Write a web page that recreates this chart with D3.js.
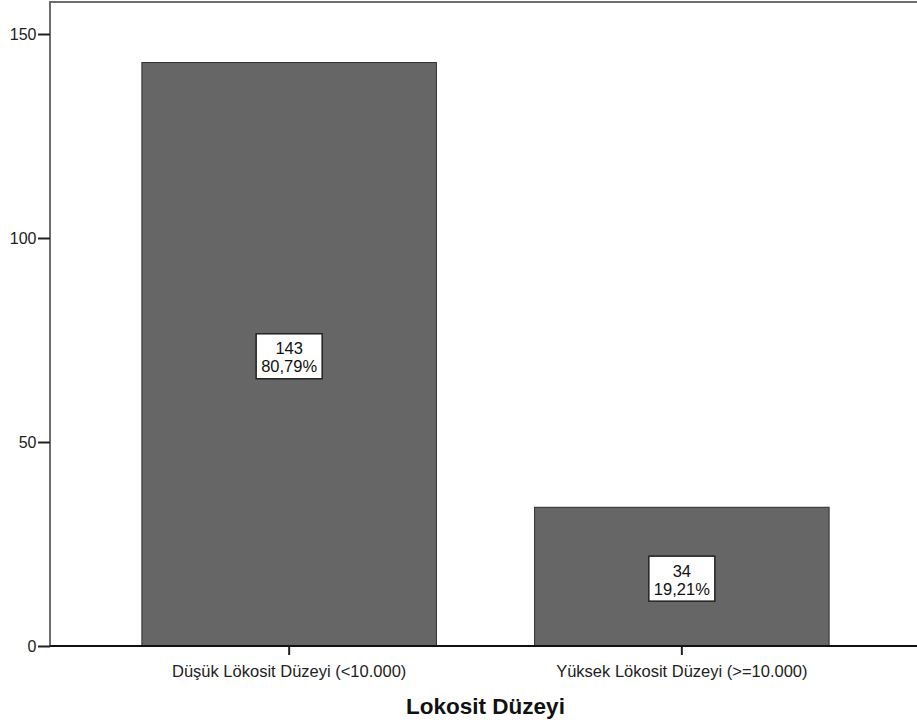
<!DOCTYPE html>
<html>
<head>
<meta charset="utf-8">
<script src="https://cdn.jsdelivr.net/npm/d3@7/dist/d3.min.js"></script>
<style>
  html, body { margin: 0; padding: 0; background: #fff; }
  svg { display: block; }
  text { font-family: Arial, "Liberation Sans", sans-serif; }
</style>
</head>
<body>
<svg id="chart" width="917" height="728"></svg>
<script>
// Frequency of leukocyte level groups
const categories = ["Düşük Lökosit Düzeyi (<10.000)", "Yüksek Lökosit Düzeyi (>=10.000)"];
const counts = [143, 34];
const percents = ["80,79%", "19,21%"];
const yTicks = [0, 50, 100, 150];
const xTitle = "Lokosit Düzeyi";

const W = 917, H = 728;
const plot = { left: 50, top: 2, right: 921, bottom: 646 };

const svg = d3.select("#chart");

const x = d3.scaleBand()
  .domain(categories)
  .range([plot.left, plot.right])
  .paddingInner(0.25)
  .paddingOuter(0.234);

const y = d3.scaleLinear()
  .domain([0, 150])
  .range([plot.bottom, 34]);

// plot frame (left and top edges)
svg.append("line")
  .attr("x1", plot.left).attr("x2", plot.left)
  .attr("y1", plot.top).attr("y2", plot.bottom)
  .attr("stroke", "#6e6e6e").attr("stroke-width", 2);
svg.append("line")
  .attr("x1", plot.left - 1).attr("x2", W)
  .attr("y1", plot.top).attr("y2", plot.top)
  .attr("stroke", "#6e6e6e").attr("stroke-width", 2);

// bars
svg.append("g").selectAll("rect")
  .data(categories)
  .join("rect")
  .attr("x", d => x(d))
  .attr("width", x.bandwidth())
  .attr("y", (d, i) => y(counts[i]))
  .attr("height", (d, i) => y(0) - y(counts[i]))
  .attr("fill", "#666666")
  .attr("stroke", "#2e2e2e")
  .attr("stroke-width", 1);

// y axis
const yAxis = svg.append("g")
  .attr("transform", `translate(${plot.left},0)`)
  .call(d3.axisLeft(y).tickValues(yTicks).tickSize(12).tickPadding(1.5).tickFormat(d3.format("d")));
yAxis.select(".domain").remove();
yAxis.selectAll(".tick line").attr("stroke", "#222").attr("stroke-width", 2);
yAxis.selectAll(".tick text")
  .attr("fill", "#222")
  .style("font-size", "16px")
  .attr("dy", "0.36em");

// x axis
const xAxis = svg.append("g")
  .attr("transform", `translate(0,${plot.bottom})`)
  .call(d3.axisBottom(x).tickSize(9).tickPadding(10));
xAxis.select(".domain").remove();
svg.append("line")
  .attr("x1", plot.left).attr("x2", W)
  .attr("y1", plot.bottom).attr("y2", plot.bottom)
  .attr("stroke", "#111").attr("stroke-width", 2);
xAxis.selectAll(".tick line").attr("stroke", "#222").attr("stroke-width", 2);
xAxis.selectAll(".tick text")
  .attr("fill", "#222")
  .style("font-size", "16.5px");

// axis title
svg.append("text")
  .attr("x", (plot.left + 917) / 2 + 2)
  .attr("y", 714)
  .attr("text-anchor", "middle")
  .style("font-size", "22.5px")
  .style("font-weight", "bold")
  .attr("fill", "#111")
  .text(xTitle);

// value labels inside bars
const boxW = 66, boxH = 45;
const labels = svg.append("g").selectAll("g")
  .data(categories)
  .join("g")
  .attr("transform", (d, i) => {
    const cx = x(d) + x.bandwidth() / 2;
    const cy = (y(counts[i]) + y(0)) / 2 + 2;
    return `translate(${cx},${cy})`;
  });
labels.append("rect")
  .attr("x", -boxW / 2).attr("y", -boxH / 2)
  .attr("width", boxW).attr("height", boxH)
  .attr("fill", "#fff")
  .attr("stroke", "#222").attr("stroke-width", 1.5);
labels.append("text")
  .attr("text-anchor", "middle")
  .attr("y", -2)
  .style("font-size", "16.5px")
  .attr("fill", "#111")
  .text((d, i) => counts[i]);
labels.append("text")
  .attr("text-anchor", "middle")
  .attr("y", 16)
  .style("font-size", "16.5px")
  .attr("fill", "#111")
  .text((d, i) => percents[i]);
</script>
</body>
</html>
